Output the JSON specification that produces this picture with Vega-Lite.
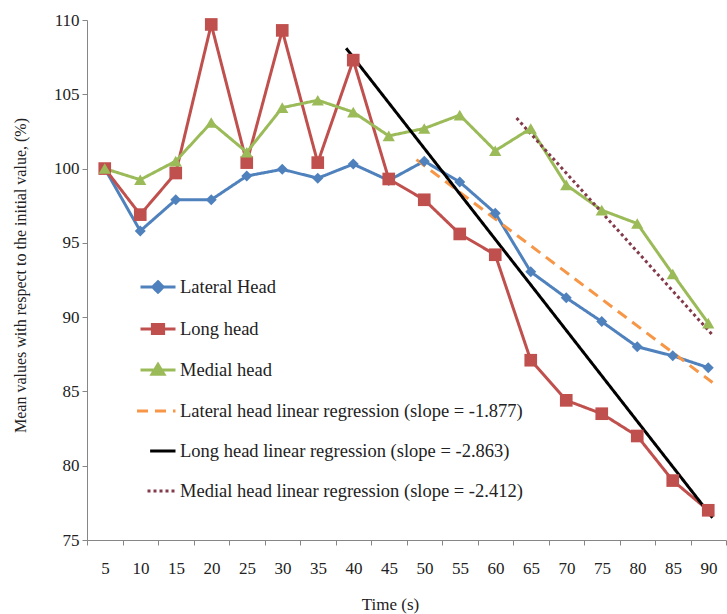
{
  "$schema": "https://vega.github.io/schema/vega-lite/v6.json",
  "width": 639,
  "height": 520,
  "autosize": {"type": "none"},
  "padding": {"left": 87, "top": 20, "right": 1, "bottom": 74},
  "background": "white",
  "config": {"view": {"stroke": null}, "font": "Liberation Serif", "axis": {"labelOverlap": false}},
  "data": {
    "values": [
      {"t": 5, "series": "Lateral Head", "v": 100},
      {"t": 10, "series": "Lateral Head", "v": 95.8},
      {"t": 15, "series": "Lateral Head", "v": 97.9},
      {"t": 20, "series": "Lateral Head", "v": 97.9},
      {"t": 25, "series": "Lateral Head", "v": 99.5},
      {"t": 30, "series": "Lateral Head", "v": 99.95},
      {"t": 35, "series": "Lateral Head", "v": 99.35},
      {"t": 40, "series": "Lateral Head", "v": 100.3},
      {"t": 45, "series": "Lateral Head", "v": 99.2},
      {"t": 50, "series": "Lateral Head", "v": 100.5},
      {"t": 55, "series": "Lateral Head", "v": 99.1},
      {"t": 60, "series": "Lateral Head", "v": 97.0},
      {"t": 65, "series": "Lateral Head", "v": 93.05},
      {"t": 70, "series": "Lateral Head", "v": 91.3},
      {"t": 75, "series": "Lateral Head", "v": 89.7},
      {"t": 80, "series": "Lateral Head", "v": 88.0},
      {"t": 85, "series": "Lateral Head", "v": 87.4},
      {"t": 90, "series": "Lateral Head", "v": 86.6},
      {"t": 5, "series": "Long head", "v": 100},
      {"t": 10, "series": "Long head", "v": 96.9},
      {"t": 15, "series": "Long head", "v": 99.7},
      {"t": 20, "series": "Long head", "v": 109.7},
      {"t": 25, "series": "Long head", "v": 100.4},
      {"t": 30, "series": "Long head", "v": 109.3},
      {"t": 35, "series": "Long head", "v": 100.4},
      {"t": 40, "series": "Long head", "v": 107.3},
      {"t": 45, "series": "Long head", "v": 99.3},
      {"t": 50, "series": "Long head", "v": 97.9},
      {"t": 55, "series": "Long head", "v": 95.6},
      {"t": 60, "series": "Long head", "v": 94.2},
      {"t": 65, "series": "Long head", "v": 87.1},
      {"t": 70, "series": "Long head", "v": 84.4},
      {"t": 75, "series": "Long head", "v": 83.5},
      {"t": 80, "series": "Long head", "v": 82.0},
      {"t": 85, "series": "Long head", "v": 79.0},
      {"t": 90, "series": "Long head", "v": 77.0},
      {"t": 5, "series": "Medial head", "v": 100},
      {"t": 10, "series": "Medial head", "v": 99.25},
      {"t": 15, "series": "Medial head", "v": 100.5},
      {"t": 20, "series": "Medial head", "v": 103.1},
      {"t": 25, "series": "Medial head", "v": 101.1},
      {"t": 30, "series": "Medial head", "v": 104.1},
      {"t": 35, "series": "Medial head", "v": 104.6},
      {"t": 40, "series": "Medial head", "v": 103.8},
      {"t": 45, "series": "Medial head", "v": 102.2},
      {"t": 50, "series": "Medial head", "v": 102.7},
      {"t": 55, "series": "Medial head", "v": 103.6},
      {"t": 60, "series": "Medial head", "v": 101.2},
      {"t": 65, "series": "Medial head", "v": 102.7},
      {"t": 70, "series": "Medial head", "v": 98.9},
      {"t": 75, "series": "Medial head", "v": 97.2},
      {"t": 80, "series": "Medial head", "v": 96.3},
      {"t": 85, "series": "Medial head", "v": 92.9},
      {"t": 90, "series": "Medial head", "v": 89.6},
      {"t": 48.9, "series": "Lateral head linear regression (slope = -1.877)", "v": 100.6},
      {"t": 90.6, "series": "Lateral head linear regression (slope = -1.877)", "v": 85.6},
      {"t": 39.0, "series": "Long head linear regression (slope = -2.863)", "v": 108.1},
      {"t": 90.6, "series": "Long head linear regression (slope = -2.863)", "v": 76.5},
      {"t": 63.0, "series": "Medial head linear regression (slope = -2.412)", "v": 103.4},
      {"t": 90.6, "series": "Medial head linear regression (slope = -2.412)", "v": 88.8}
    ]
  },
  "encoding": {
    "x": {
      "field": "t", "type": "quantitative",
      "scale": {"domain": [2.5, 92.5], "nice": false, "zero": false},
      "axis": {
        "values": [2.5, 7.5, 12.5, 17.5, 22.5, 27.5, 32.5, 37.5, 42.5, 47.5, 52.5, 57.5, 62.5, 67.5, 72.5, 77.5, 82.5, 87.5, 92.5],
        "labelExpr": "datum.value < 90 ? format(datum.value + 2.5, 'd') : ''",
        "labelOffset": 17.9,
        "labelFlush": false,
        "labelOverlap": false,
        "labelBound": false,
        "labelPadding": 15,
        "labelFontSize": 17,
        "labelColor": "#222",
        "labelFont": "Liberation Serif",
        "tickSize": 5,
        "tickColor": "#868686",
        "domainColor": "#868686",
        "grid": false,
        "title": "Time (s)",
        "titleFont": "Liberation Serif",
        "titleFontSize": 17,
        "titleFontWeight": "normal",
        "titleColor": "#222",
        "titleX": 303,
        "titleY": 56,
        "titleAlign": "center",
        "titleBaseline": "top"
      }
    },
    "y": {
      "field": "v", "type": "quantitative",
      "scale": {"domain": [75, 110], "nice": false, "zero": false},
      "axis": {
        "values": [75, 80, 85, 90, 95, 100, 105, 110],
        "labelFontSize": 17,
        "labelColor": "#222",
        "labelFont": "Liberation Serif",
        "labelPadding": 3,
        "tickSize": 5,
        "tickColor": "#868686",
        "domainColor": "#868686",
        "grid": false,
        "title": "Mean values with respect to the initial value, (%)",
        "titleFont": "Liberation Serif",
        "titleFontSize": 16,
        "titleFontWeight": "normal",
        "titleColor": "#222",
        "titleAngle": 270,
        "titleX": -67,
        "titleY": 255,
        "titleAlign": "center",
        "titleBaseline": "middle"
      }
    }
  },
  "layer": [
    {
      "mark": {"type": "line", "strokeWidth": 3},
      "encoding": {
        "color": {
          "field": "series", "type": "nominal",
          "scale": {
            "domain": ["Lateral Head", "Long head", "Medial head", "Lateral head linear regression (slope = -1.877)", "Long head linear regression (slope = -2.863)", "Medial head linear regression (slope = -2.412)"],
            "range": ["#4F81BD", "#C0504D", "#9BBB59", "#F79646", "#000000", "#833B4B"]
          },
          "legend": {
            "title": null,
            "orient": "none",
            "legendX": 52,
            "legendY": 248,
            "padding": 0,
            "rowPadding": 11,
            "symbolSize": 1225,
            "symbolStrokeWidth": 3,
            "labelOffset": 3,
            "labelFont": "Liberation Serif",
            "labelFontSize": 18.5,
            "labelColor": "#222",
            "labelLimit": 600,
            "encode": {
              "symbols": {
                "update": {
                  "shape": {"signal": "datum.value === 'Lateral Head' ? 'M-1,0L1,0M-0.3,0L0,-0.3L0.3,0L0,0.3Z' : datum.value === 'Long head' ? 'M-1,0L1,0M-0.32,-0.26L0.32,-0.26L0.32,0.26L-0.32,0.26Z' : datum.value === 'Medial head' ? 'M-1,0L1,0M-0.34,0.24L0,-0.32L0.34,0.24Z' : datum.value === 'Long head linear regression (slope = -2.863)' ? 'M-0.45,0L1,0' : datum.value === 'Medial head linear regression (slope = -2.412)' ? 'M-0.6,0L1,0' : 'M-1.2,0L1,0'"},
                  "fill": {"scale": "color", "field": "value"},
                  "stroke": {"scale": "color", "field": "value"},
                  "strokeWidth": {"value": 3},
                  "strokeDash": {"signal": "datum.value === 'Lateral head linear regression (slope = -1.877)' ? [12, 7] : datum.value === 'Medial head linear regression (slope = -2.412)' ? [3, 3] : [1, 0]"},
                  "opacity": {"value": 1}
                }
              }
            }
          }
        },
        "strokeDash": {
          "field": "series", "type": "nominal",
          "scale": {
            "domain": ["Lateral Head", "Long head", "Medial head", "Lateral head linear regression (slope = -1.877)", "Long head linear regression (slope = -2.863)", "Medial head linear regression (slope = -2.412)"],
            "range": [[1, 0], [1, 0], [1, 0], [11, 7], [1, 0], [3, 3]]
          },
          "legend": null
        }
      }
    },
    {
      "transform": [{"filter": "datum.series === 'Lateral Head'"}],
      "mark": {"type": "point", "shape": "diamond", "filled": true, "size": 121, "opacity": 1},
      "encoding": {
        "color": {"field": "series", "type": "nominal", "legend": null}
      }
    },
    {
      "transform": [{"filter": "datum.series === 'Long head'"}],
      "mark": {"type": "point", "shape": "square", "filled": true, "size": 160, "opacity": 1},
      "encoding": {
        "color": {"field": "series", "type": "nominal", "legend": null}
      }
    },
    {
      "transform": [{"filter": "datum.series === 'Medial head'"}],
      "mark": {"type": "point", "shape": "triangle-up", "filled": true, "size": 150, "opacity": 1},
      "encoding": {
        "color": {"field": "series", "type": "nominal", "legend": null}
      }
    }
  ]
}
